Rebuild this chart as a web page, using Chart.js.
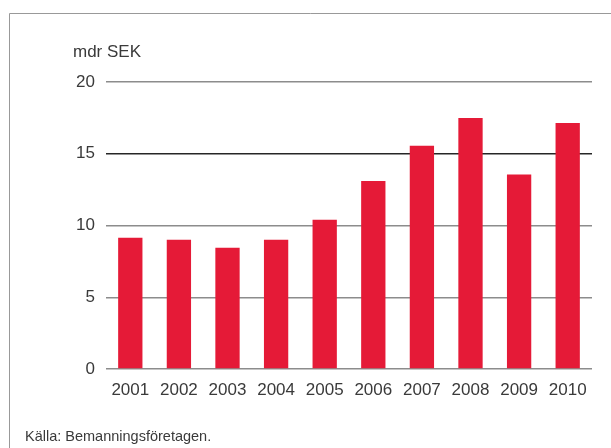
<!DOCTYPE html>
<html>
<head>
<meta charset="utf-8">
<script src="https://cdn.jsdelivr.net/npm/chart.js@4"></script>
<style>
html,body{margin:0;padding:0;background:#fff;}
#wrap{position:relative;width:611px;height:448px;}
canvas{display:block;}
</style>
</head>
<body>
<div id="wrap"><canvas id="c" width="611" height="448"></canvas></div>
<script>
const categories = ['2001','2002','2003','2004','2005','2006','2007','2008','2009','2010'];
const values = [9.15, 9.0, 8.45, 9.0, 10.4, 13.1, 15.55, 17.5, 13.55, 17.15];
const yTicks = [0, 5, 10, 15, 20];
const unitLabel = 'mdr SEK';
const sourceNote = 'Källa: Bemanningsföretagen.';

const FONT = '"Liberation Sans", Arial, Helvetica, sans-serif';
const TEXT = '#3a3a3a';

const framePlugin = {
  id: 'frame',
  beforeDraw(chart) {
    const ctx = chart.ctx;
    ctx.save();
    ctx.fillStyle = '#fff';
    ctx.fillRect(0, 0, chart.width, chart.height);
    ctx.strokeStyle = '#999';
    ctx.lineWidth = 1;
    ctx.beginPath();
    ctx.moveTo(9.5, chart.height);
    ctx.lineTo(9.5, 13.5);
    ctx.lineTo(chart.width, 13.5);
    ctx.stroke();
    ctx.restore();
  },
  afterDraw(chart) {
    const ctx = chart.ctx;
    ctx.save();
    ctx.fillStyle = TEXT;
    ctx.textBaseline = 'alphabetic';
    ctx.textAlign = 'left';
    ctx.font = '17px ' + FONT;
    ctx.fillText(unitLabel, 73, 57);
    ctx.font = '14.5px ' + FONT;
    ctx.fillText(sourceNote, 25, 441);
    ctx.restore();
  }
};

new Chart(document.getElementById('c'), {
  type: 'bar',
  data: {
    labels: categories,
    datasets: [{
      data: values,
      backgroundColor: '#e51a37',
      borderWidth: 0,
      barPercentage: 0.5,
      categoryPercentage: 1.0
    }]
  },
  options: {
    responsive: false,
    animation: false,
    devicePixelRatio: 1,
    layout: { padding: { top: 82, right: 19, bottom: 44, left: 0 } },
    plugins: { legend: { display: false }, tooltip: { enabled: false }, title: { display: false } },
    scales: {
      x: {
        grid: { display: false, drawTicks: false },
        border: { display: false },
        ticks: { color: TEXT, font: { family: FONT, size: 17 }, padding: 11, maxRotation: 0 },
        afterFit(s) { s.height = 35; }
      },
      y: {
        min: 0, max: 20,
        afterBuildTicks(s) { s.ticks = yTicks.map(v => ({ value: v })); },
        grid: {
          drawTicks: false,
          lineWidth: 1.5,
          color: c => (c.tick && c.tick.value === 15) ? '#262626' : '#8c8c8c'
        },
        border: { display: false },
        ticks: { color: TEXT, font: { family: FONT, size: 17 }, padding: 11 },
        afterFit(s) { s.width = 106; }
      }
    }
  },
  plugins: [framePlugin]
});
</script>
</body>
</html>
